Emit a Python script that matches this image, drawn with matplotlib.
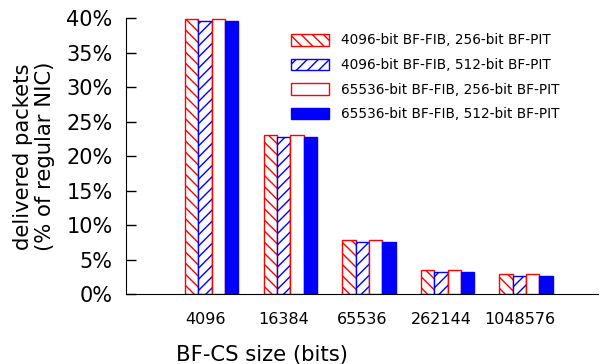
import numpy as np
import matplotlib
matplotlib.use('Agg')
import matplotlib.pyplot as plt

# data
sizes = ['4096', '16384', '65536', '262144', '1048576']
labels = ['4096-bit BF-FIB, 256-bit BF-PIT',
          '4096-bit BF-FIB, 512-bit BF-PIT',
          '65536-bit BF-FIB, 256-bit BF-PIT',
          '65536-bit BF-FIB, 512-bit BF-PIT']
fib4k_pit256 = [39.85, 23.1, 7.85, 3.5, 2.95]
fib4k_pit512 = [39.55, 22.8, 7.55, 3.2, 2.65]
fib64k_pit256 = [39.85, 23.1, 7.85, 3.5, 2.95]
fib64k_pit512 = [39.55, 22.8, 7.55, 3.2, 2.65]

series = [fib4k_pit256, fib4k_pit512, fib64k_pit256, fib64k_pit512]
styles = [
    dict(facecolor='white', edgecolor='red', hatch='\\\\\\'),
    dict(facecolor='white', edgecolor='blue', hatch='///'),
    dict(facecolor='white', edgecolor='red'),
    dict(facecolor='blue', edgecolor='blue'),
]

fig = plt.figure(figsize=(6, 3.64), dpi=100)
ax = fig.add_axes([0.2108, 0.1915, 0.7859, 0.7582])

x = np.arange(len(sizes))
w = 0.17
for i, (vals, st) in enumerate(zip(series, styles)):
    ax.bar(x - 0.255 + i * w, vals, w, align='edge', linewidth=1,
           label=labels[i], **st)

ax.set_xlim(-1, 5)
ax.set_ylim(0, 40)
ax.set_xticks(x)
ax.set_xticklabels(sizes, fontsize=11.5)
ax.set_yticks(np.arange(0, 41, 5))
ax.set_yticklabels(['%d%%' % v for v in range(0, 41, 5)], fontsize=15)
ax.tick_params(axis='x', length=0, pad=12.5)
ax.tick_params(axis='y', direction='in', length=7, width=1, pad=10)

for s in ['top', 'right']:
    ax.spines[s].set_visible(False)

ax.set_xlabel('BF-CS size (bits)', fontsize=15.2)
ax.xaxis.set_label_coords(0.288, -0.183)
ax.set_ylabel('delivered packets\n(% of regular NIC)', fontsize=15.2,
              linespacing=1.12)
ax.yaxis.set_label_coords(-0.152, 0.5)

fig.legend(loc='upper left', bbox_to_anchor=(0.485, 0.908),
           frameon=False, fontsize=9.8, handlelength=2.8,
           handleheight=0.93, handletextpad=0.9, labelspacing=0.78,
           borderpad=0, borderaxespad=0)

fig.savefig('out.png', dpi=100)
